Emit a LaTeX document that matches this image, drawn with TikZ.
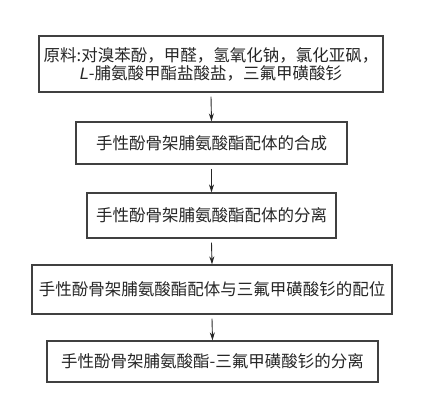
\documentclass[tikz,border=0pt]{standalone}
\usepackage{fontspec}
\setmainfont{Liberation Sans}
\newfontfamily\cjk{Noto Sans CJK SC}
\usetikzlibrary{arrows.meta}
\begin{document}
\begin{tikzpicture}[x=1pt,y=-1pt,
  stepbox/.style={draw=black!75, line width=1.2pt, fill=white, inner sep=0pt, align=center,
    font=\cjk\fontsize{16.5pt}{18pt}\selectfont, text=black!85},
  conn/.style={draw=black!85, line width=0.9pt, -{Stealth[length=8pt,width=5pt]}}]
\useasboundingbox (0,0) rectangle (426,415);
\node[stepbox, minimum width=344pt, minimum height=56pt] (a) at (211,64)
  {原料:对溴苯酚，甲醛，氢氧化钠，氯化亚砜，\\{\fontspec{Liberation Sans}\itshape L}-脯氨酸甲酯盐酸盐，三氟甲磺酸钐};
\node[stepbox, minimum width=271pt, minimum height=42pt] (b) at (211.5,143)
  {手性酚骨架脯氨酸酯配体的合成};
\node[stepbox, minimum width=249pt, minimum height=45pt] (c) at (211.5,215.5)
  {手性酚骨架脯氨酸酯配体的分离};
\node[stepbox, minimum width=360pt, minimum height=49pt] (d) at (212,289.5)
  {手性酚骨架脯氨酸酯配体与三氟甲磺酸钐的配位};
\node[stepbox, minimum width=331pt, minimum height=41pt] (e) at (212.5,361.5)
  {手性酚骨架脯氨酸酯-三氟甲磺酸钐的分离};
\draw[conn] ([yshift=-4pt]a.south) -- (b.north);
\draw[conn] ([yshift=-4pt]b.south) -- (c.north);
\draw[conn] ([yshift=-4pt]c.south) -- (d.north);
\draw[conn] ([yshift=-4pt]d.south) -- (e.north);
\end{tikzpicture}
\end{document}
